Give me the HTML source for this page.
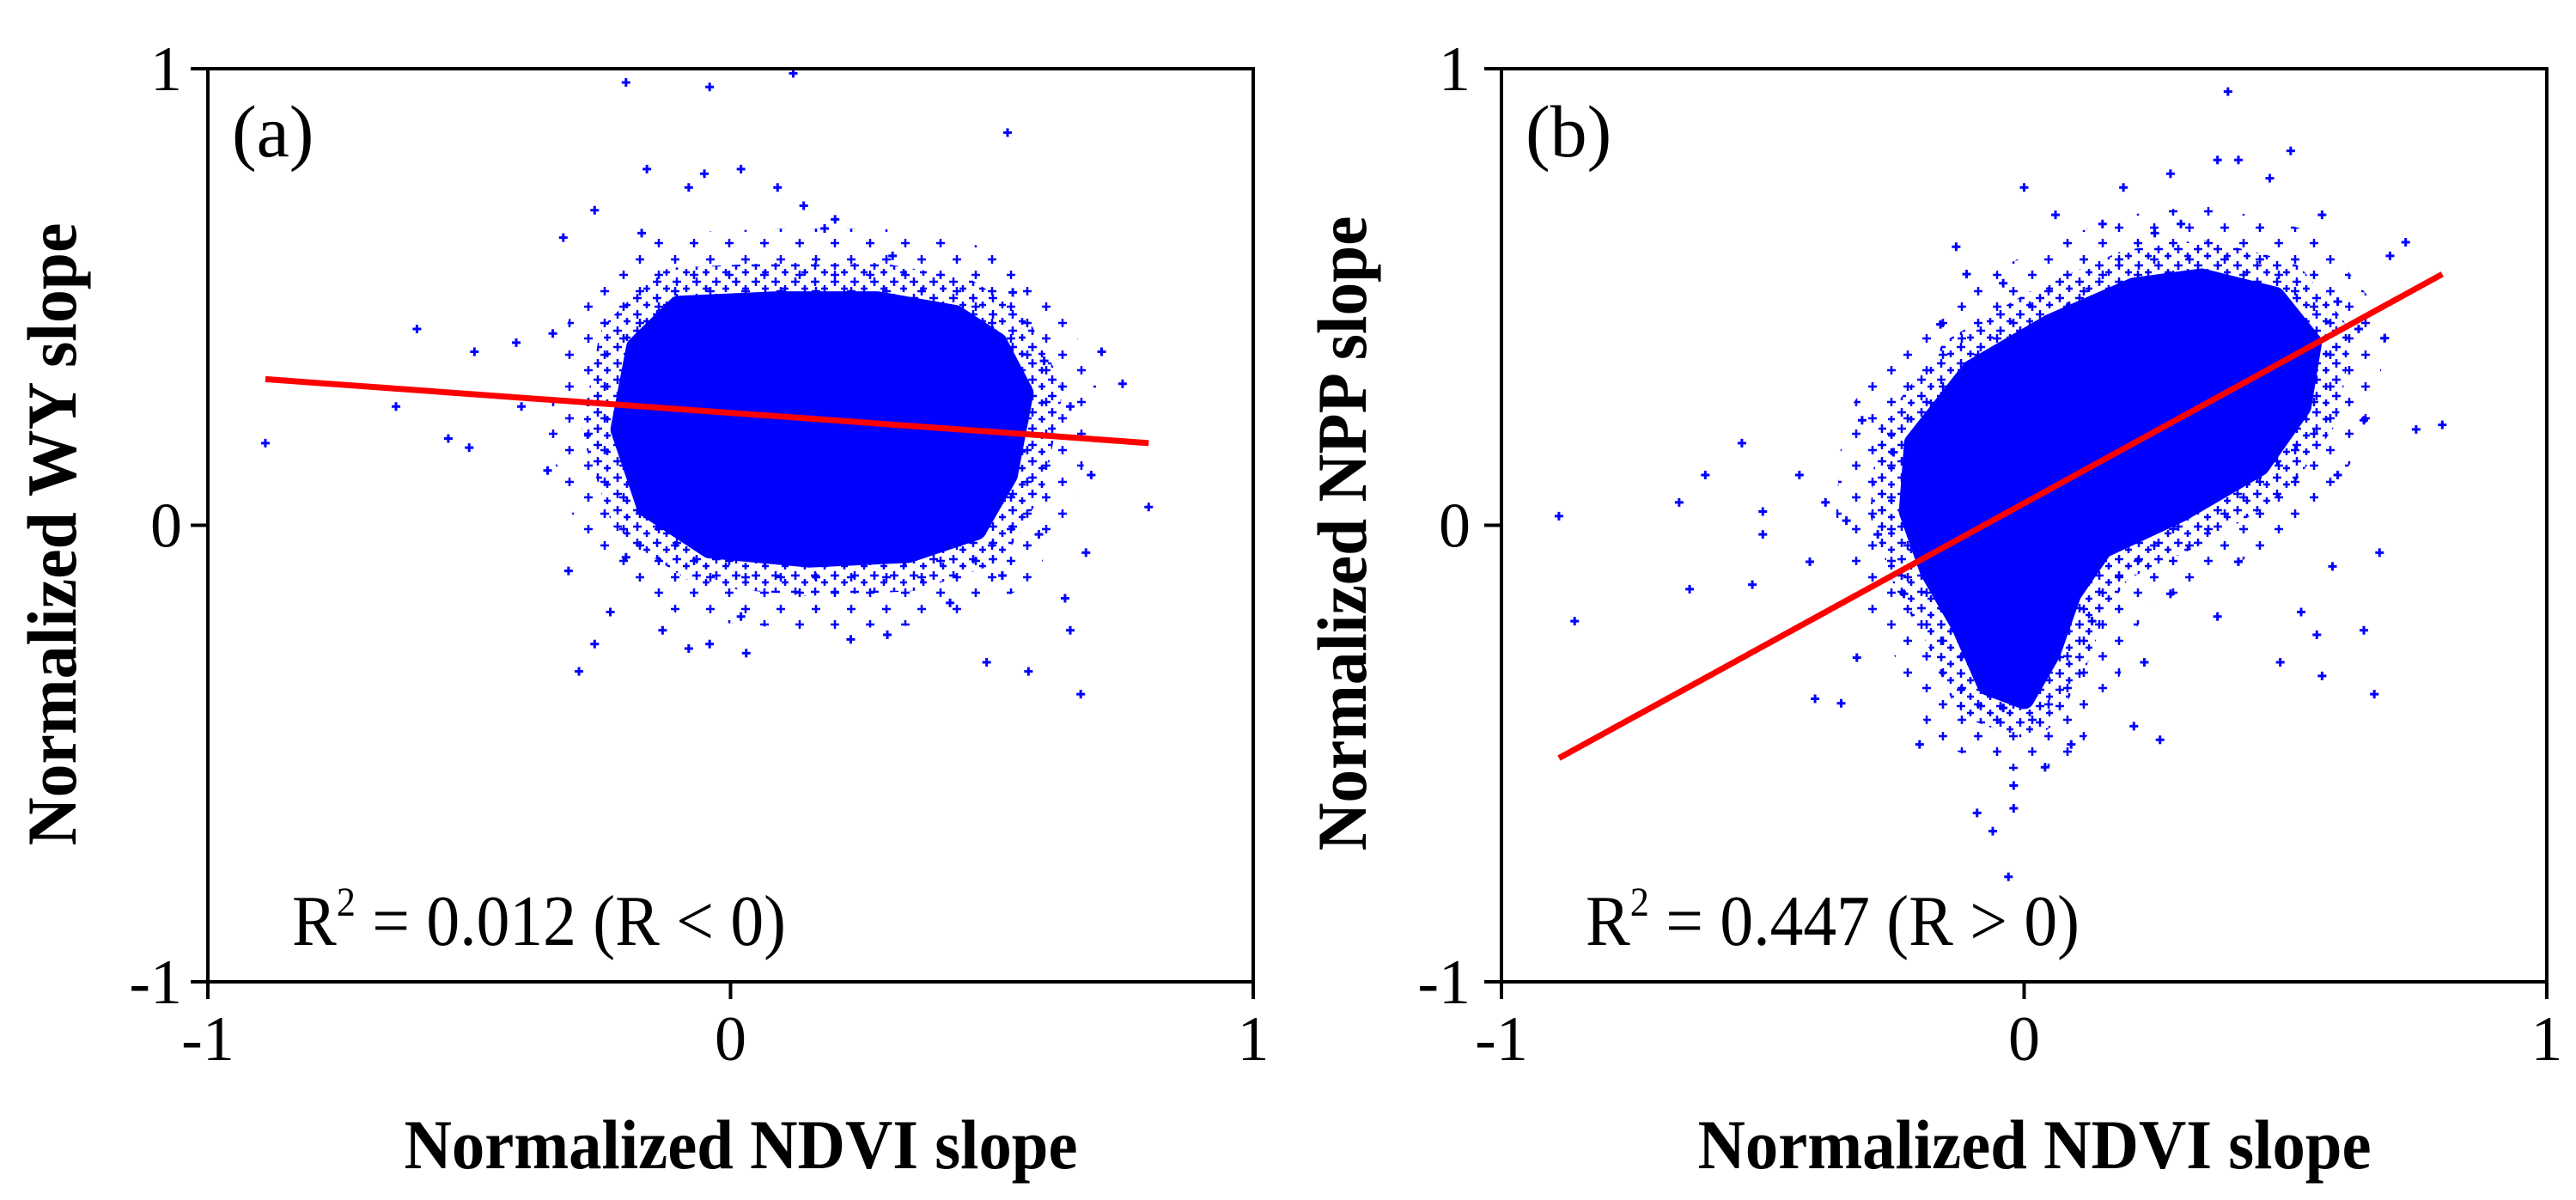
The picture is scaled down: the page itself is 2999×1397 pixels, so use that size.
<!DOCTYPE html>
<html><head><meta charset="utf-8"><style>
html,body{margin:0;padding:0;background:#fff;}
svg{display:block;}
text{font-family:"Liberation Serif",serif;fill:#000;}
</style></head><body>
<svg id="chart" width="2999" height="1397" viewBox="0 0 2999 1397" xmlns="http://www.w3.org/2000/svg">
<defs>
<pattern id="plusPat" patternUnits="userSpaceOnUse" width="23" height="19">
<path d="M1,5H11M6,0V10M13,13H21M17,9V17" stroke="#0000ff" stroke-width="2.5"/>
</pattern>
<pattern id="plusPat2" patternUnits="userSpaceOnUse" width="41" height="37">
<path d="M2,6H12M7,1V11M24,24H34M29,19V29" stroke="#0000ff" stroke-width="2.5"/>
</pattern>
</defs>
</svg>
<script>
// ---- data ----
const xTicks = [-1, 0, 1];
const yTicks = [-1, 0, 1];
const tickLabels = ["-1", "0", "1"];
const panelLabels = ["(a)", "(b)"];
const yTitles = ["Normalized WY slope", "Normalized NPP slope"];
const xTitle = "Normalized NDVI slope";
const statTexts = [["0.012 (R < 0)"], ["0.447 (R > 0)"]];
// regression line endpoints [x0,y0,x1,y1]
const fitA = [-0.89, 0.32, 0.80, 0.18];
const fitB = [-0.89, -0.51, 0.80, 0.55];
// dense core outline (data coords)
const coreAX = [-0.18,-0.10,0.09,0.28,0.43,0.51,0.56,0.53,0.47,0.34,0.15,-0.04,-0.16,-0.21];
const coreAY = [0.39,0.48,0.49,0.49,0.46,0.40,0.29,0.11,-0.01,-0.06,-0.07,-0.05,0.04,0.21];
const coreBX = [-0.21,-0.10,0.05,0.21,0.34,0.48,0.55,0.53,0.45,0.30,0.15,0.09,0.05,0.00,-0.07,-0.12,-0.18,-0.22];
const coreBY = [0.18,0.34,0.44,0.52,0.54,0.50,0.40,0.26,0.13,0.03,-0.05,-0.15,-0.28,-0.38,-0.35,-0.22,-0.10,0.03];
// scattered points
const ptsAX = [-0.2,-0.04,0.12,0.53,-0.16,-0.60,-0.89,-0.64,-0.54,-0.50,-0.32,-0.26,-0.05,0.09,0.14,0.31,0.54,0.75,0.71,0.80,0.67,0.57,0.49,-0.29,-0.26,-0.31,-0.08,0.03,0.23,0.42,0.65,0.64,0.68,0.59,-0.13,-0.23,-0.20,-0.35,-0.40,-0.49,-0.41,-0.34,0.65,0.69,0.60,0.02,-0.04,0.52,0.30,-0.17,-0.08,0.02,0.20,0.18];
const ptsAY = [0.97,0.96,0.99,0.86,0.78,0.43,0.18,0.26,0.19,0.17,0.63,0.69,0.77,0.74,0.70,0.59,0.51,0.31,0.38,0.04,-0.37,-0.32,-0.30,-0.32,-0.26,-0.10,-0.27,-0.28,-0.25,-0.17,-0.23,-0.16,-0.06,-0.02,-0.23,-0.19,-0.07,0.12,0.26,0.38,0.40,0.42,0.26,0.11,0.36,-0.20,-0.26,-0.11,-0.24,0.64,0.74,0.78,0.67,0.65];
const ptsBX = [0.39,0.51,0.37,0.41,0.00,-0.89,-0.86,-0.66,-0.61,-0.54,-0.50,-0.50,-0.64,-0.52,-0.40,-0.35,-0.03,-0.06,-0.09,-0.02,0.21,0.26,0.49,0.57,0.67,0.65,0.80,0.75,0.73,0.70,0.57,0.47,0.28,0.19,0.06,-0.13,-0.11,-0.04,-0.16,-0.43,-0.38,-0.41,-0.32,-0.20,0.09,0.04,0.53,0.56,0.68,0.59,0.69,0.64,-0.25,-0.28,-0.23,-0.10,-0.04,-0.02,0.13,0.28,0.41,0.37,0.23,0.60,0.65,0.60,0.15,0.25,0.30,-0.34,-0.31];
const ptsBY = [0.95,0.82,0.80,0.80,0.74,0.02,-0.21,0.05,0.11,0.18,0.03,-0.02,-0.14,-0.13,-0.38,-0.39,-0.77,-0.67,-0.63,-0.62,-0.44,-0.47,-0.30,-0.33,-0.37,-0.23,0.22,0.21,0.62,0.59,0.68,0.76,0.77,0.74,0.68,0.61,0.55,0.53,0.44,0.11,0.05,-0.08,-0.29,-0.48,-0.48,-0.53,-0.19,-0.24,-0.06,-0.09,0.41,0.43,0.16,-0.02,-0.15,-0.28,-0.40,-0.57,-0.21,-0.15,-0.08,-0.20,-0.30,0.11,0.23,0.49,0.66,0.64,0.66,0.01,0.23];

const NS = "http://www.w3.org/2000/svg";
const svg = document.getElementById("chart");
function mk(tag, attrs, parent) {
  const e = document.createElementNS(NS, tag);
  for (const k in attrs) e.setAttribute(k, attrs[k]);
  (parent || svg).appendChild(e);
  return e;
}
const panels = [
  {x0: 242, x1: 1459, y0: 80, y1: 1143, fit: fitA, cx: coreAX, cy: coreAY, px: ptsAX, py: ptsAY, ytx: 88, tickR: 212},
  {x0: 1748, x1: 2965, y0: 80, y1: 1143, fit: fitB, cx: coreBX, cy: coreBY, px: ptsBX, py: ptsBY, ytx: 1590, tickR: 1712}
];
panels.forEach((p, i) => {
  const sx = v => p.x0 + (v + 1) / 2 * (p.x1 - p.x0);
  const sy = v => p.y1 - (v + 1) / 2 * (p.y1 - p.y0);
  const g = mk("g", {});
  
  
  const pts = p.cx.map((v, k) => sx(v) + "," + sy(p.cy[k])).join(" ");
  // outer sparse halo
  const h2 = mk("polygon", {points: pts, fill: "none", stroke: "url(#plusPat2)", "stroke-width": 170, "stroke-linejoin": "round"}, g);
  
  
  // denser halo
  const h1 = mk("polygon", {points: pts, fill: "none", stroke: "url(#plusPat)", "stroke-width": 90, "stroke-linejoin": "round"}, g);
  
  
  // core cloud
  const core = mk("polygon", {points: pts, fill: "#0000ff", stroke: "#0000ff", "stroke-width": 24, "stroke-linejoin": "round"}, g);
  
  
  // points
  p.px.forEach((v, k) => {
    const x = sx(v), y = sy(p.py[k]);
    const pt = mk("path", {d: `M${x-5},${y}H${x+5}M${x},${y-5}V${y+5}`, stroke: "#0000ff", "stroke-width": 3}, g);
    
    
  });
  // fit line
  const f = p.fit;
  const ln = mk("line", {x1: sx(f[0]), y1: sy(f[1]), x2: sx(f[2]), y2: sy(f[3]), stroke: "#ff0000", "stroke-width": 7}, g);
  
  
  // frame
  const fr = mk("rect", {x: p.x0, y: p.y0, width: p.x1 - p.x0, height: p.y1 - p.y0, fill: "none", stroke: "#000", "stroke-width": 4}, g);
  
  
  xTicks.forEach((t, k) => {
    const x = sx(t);
    const tk = mk("line", {x1: x, y1: p.y1, x2: x, y2: p.y1 + 20, stroke: "#000", "stroke-width": 4}, g);
    
    
    const tl = mk("text", {x: x, y: 1234, "font-size": 74, "text-anchor": "middle"}, g);
    tl.textContent = tickLabels[k];
    
    
  });
  yTicks.forEach((t, k) => {
    const y = sy(t);
    const tk = mk("line", {x1: p.x0 - 20, y1: y, x2: p.x0, y2: y, stroke: "#000", "stroke-width": 4}, g);
    
    
    const tl = mk("text", {x: p.tickR, y: y + 25, "font-size": 74, "text-anchor": "end"}, g);
    tl.textContent = tickLabels[k];
    
    
  });
  const pl = mk("text", {x: p.x0 + 28, y: p.y0 + 102, "font-size": 86}, g);
  pl.textContent = panelLabels[i];
  
  
  const st = mk("text", {x: p.x0 + 98, y: 1100, "font-size": 84, textLength: 575, lengthAdjust: "spacingAndGlyphs"}, g);
  
  
  const r = mk("tspan", {}, st); r.textContent = "R";
  const s2 = mk("tspan", {dy: -34, "font-size": 48}, st); s2.textContent = "2";
  const rest = mk("tspan", {dy: 34}, st); rest.textContent = " = " + statTexts[i][0];
  const xt = mk("text", {x: (p.x0 + p.x1) / 2 + 12, y: 1360, "font-size": 82, "font-weight": "bold", "text-anchor": "middle", textLength: 784, lengthAdjust: "spacingAndGlyphs"}, g);
  xt.textContent = xTitle;
  
  
  const yt = mk("text", {x: 0, y: 0, "font-size": 82, "font-weight": "bold", "text-anchor": "middle", transform: `translate(${p.ytx},${i ? 621 : 622}) rotate(-90)`, textLength: i ? 739 : 725, lengthAdjust: "spacingAndGlyphs"}, g);
  yt.textContent = yTitles[i];
  
  
});
</script>
</body></html>
